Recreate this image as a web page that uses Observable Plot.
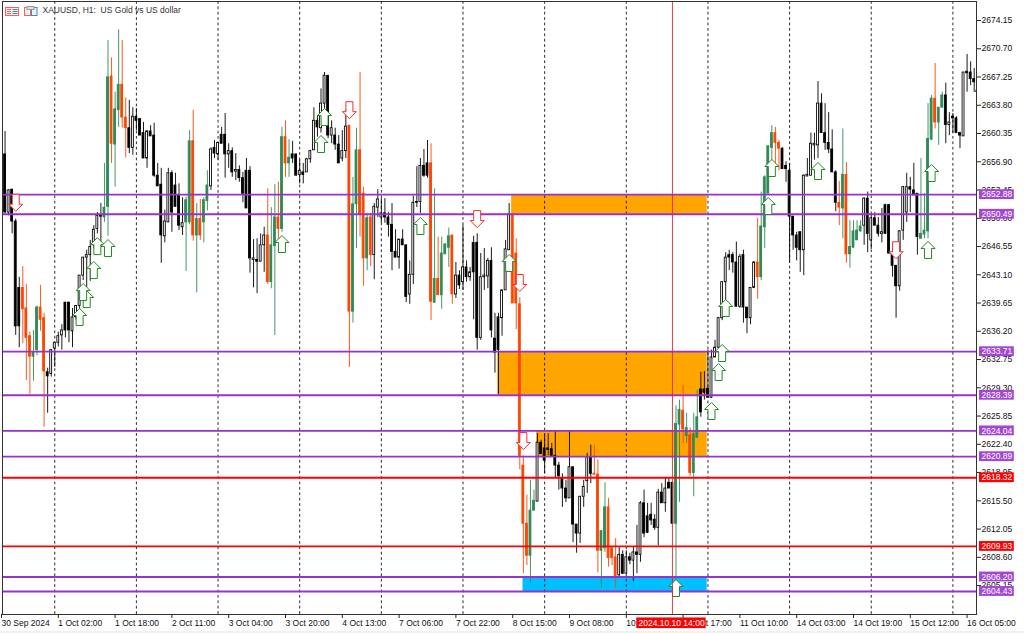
<!DOCTYPE html>
<html><head><meta charset="utf-8">
<style>
html,body{margin:0;padding:0;width:1024px;height:633px;overflow:hidden;background:linear-gradient(#fff 631px,#f0f0f0 631px);}
#wrap{position:relative;width:1024px;height:633px;}
#icons{position:absolute;left:0;top:0;}
</style>
<script src="https://cdn.jsdelivr.net/npm/d3@7"></script>
<script src="https://cdn.jsdelivr.net/npm/@observablehq/plot@0.6"></script>
</head><body><div id="wrap"></div>
<script>
const chartTitle = "XAUUSD, H1:\u00A0\u00A0US Gold vs US dollar";

const highs = [
2660.6,2653.5,2653.5,2649.9,2642.8,2644.1,2641.9,2636.1,2636.3,2639.3,
2641.8,2638.4,2631.7,2633.9,2634.8,2636.1,2637.0,2639.7,2639.7,2639.0,
2639.3,2643.0,2645.2,2646.1,2647.3,2649.1,2650.7,2651.8,2656.7,2671.7,
2669.6,2665.4,2673.0,2671.7,2664.7,2664.4,2663.5,2663.4,2662.2,2661.7,
2660.7,2661.3,2661.6,2656.7,2656.1,2651.0,2656.1,2655.8,2655.5,2654.2,
2652.5,2652.6,2660.7,2663.2,2651.8,2652.3,2652.5,2655.8,2658.6,2659.5,
2659.2,2661.1,2662.8,2659.1,2658.6,2657.9,2656.4,2655.6,2657.3,2656.3,
2647.4,2647.5,2648.1,2648.9,2653.6,2651.3,2654.1,2654.4,2661.1,2661.9,
2659.6,2659.4,2657.8,2657.1,2656.7,2657.3,2658.3,2663.5,2662.5,2665.8,
2667.8,2667.4,2661.9,2661.0,2660.1,2660.7,2663.2,2661.3,2655.0,2661.0,
2667.8,2653.8,2650.6,2650.6,2651.8,2653.5,2652.4,2652.4,2650.7,2651.8,
2648.6,2647.4,2648.6,2646.7,2644.8,2652.7,2656.3,2657.3,2658.4,2659.5,
2659.1,2653.6,2647.7,2647.7,2646.9,2648.8,2647.9,2644.6,2643.6,2649.1,
2644.8,2644.0,2647.8,2648.1,2645.7,2646.3,2645.1,2646.4,2638.4,2638.4,
2641.2,2647.3,2651.8,2650.5,2647.5,2640.3,2621.0,2616.2,2618.0,2616.8,
2623.7,2622.9,2623.5,2623.7,2622.5,2624.0,2620.2,2618.8,2618.0,2624.0,
2619.6,2612.6,2616.0,2618.0,2621.3,2622.3,2622.3,2620.5,2611.8,2617.7,
2615.8,2609.8,2610.9,2609.8,2609.4,2609.4,2609.1,2609.8,2612.5,2615.4,
2616.8,2615.2,2615.2,2613.8,2616.9,2617.6,2618.3,2618.3,2617.7,2627.1,
2627.8,2629.6,2626.2,2624.4,2626.2,2629.0,2631.2,2631.3,2633.9,2633.9,
2635.1,2637.9,2642.2,2645.8,2646.1,2645.8,2647.1,2645.6,2646.1,2639.1,
2641.5,2644.7,2650.0,2653.2,2655.2,2658.8,2661.3,2661.1,2659.5,2658.6,
2656.9,2656.7,2650.2,2648.3,2648.3,2655.3,2657.3,2660.4,2660.4,2666.7,
2665.2,2664.0,2662.9,2660.8,2655.8,2654.5,2660.9,2656.8,2649.7,2649.7,
2649.7,2649.7,2652.5,2653.2,2650.6,2650.7,2650.1,2651.2,2651.7,2651.7,
2646.1,2644.2,2648.5,2653.9,2655.5,2655.0,2656.7,2653.0,2657.3,2653.0,
2664.0,2665.0,2668.9,2663.5,2665.4,2666.5,2662.9,2662.8,2662.4,2660.5,
2667.8,2670.0,2669.1,2668.3];

const bodyTops = [
2657.8,2653.4,2653.5,2649.6,2641.5,2641.5,2639.0,2635.6,2633.6,2639.1,
2639.1,2637.8,2631.2,2633.9,2634.8,2635.6,2636.3,2639.7,2639.7,2637.9,
2639.3,2643.0,2645.2,2645.5,2646.5,2648.6,2650.3,2650.3,2651.3,2667.2,
2667.3,2663.3,2666.3,2666.3,2662.3,2661.0,2662.4,2662.4,2662.1,2660.4,
2660.6,2660.6,2660.1,2655.2,2654.1,2649.6,2655.5,2655.5,2654.0,2652.8,
2649.4,2652.2,2659.4,2659.4,2649.9,2649.9,2652.2,2654.0,2658.4,2658.6,
2659.2,2660.2,2660.2,2658.2,2658.2,2655.9,2655.9,2654.9,2655.8,2655.8,
2645.1,2644.9,2646.7,2647.9,2647.9,2646.7,2650.1,2650.1,2659.9,2659.9,
2657.4,2657.8,2657.8,2655.8,2655.6,2657.2,2658.2,2661.9,2661.9,2664.0,
2667.4,2667.4,2661.0,2660.1,2659.0,2658.2,2661.2,2661.3,2651.7,2658.3,
2658.3,2653.0,2650.0,2650.1,2651.4,2652.3,2650.6,2650.6,2650.1,2649.2,
2645.9,2647.4,2647.4,2646.7,2643.1,2651.9,2652.0,2656.4,2656.4,2656.7,
2656.7,2642.6,2642.6,2645.7,2646.8,2647.8,2647.9,2643.0,2643.0,2644.0,
2644.0,2643.4,2647.0,2647.0,2642.8,2643.0,2644.8,2644.8,2635.3,2637.9,
2641.2,2646.2,2650.5,2650.5,2645.7,2639.5,2619.8,2612.7,2614.3,2615.5,
2622.6,2622.6,2621.9,2621.9,2621.8,2621.0,2619.8,2618.2,2617.0,2619.6,
2619.6,2612.6,2616.0,2617.2,2620.8,2620.8,2618.8,2618.7,2611.8,2614.7,
2614.7,2609.7,2608.6,2608.9,2608.9,2608.6,2608.6,2609.2,2609.2,2615.2,
2615.2,2613.6,2613.8,2613.2,2616.5,2616.5,2617.0,2617.7,2617.7,2624.9,
2626.6,2626.5,2624.4,2623.5,2623.6,2625.7,2629.1,2629.1,2629.2,2633.0,
2634.2,2637.8,2642.2,2645.2,2645.5,2645.5,2644.6,2645.3,2645.5,2639.1,
2641.5,2644.6,2644.6,2649.0,2655.0,2658.8,2660.4,2660.4,2659.2,2658.5,
2656.4,2655.8,2650.2,2647.9,2648.3,2655.2,2655.3,2659.1,2659.1,2664.0,
2664.0,2660.4,2659.2,2658.4,2655.6,2651.9,2655.3,2655.3,2646.5,2648.4,
2648.5,2649.0,2652.4,2652.4,2650.0,2650.0,2649.1,2648.3,2651.6,2651.6,
2645.7,2644.2,2648.4,2653.8,2653.8,2653.8,2653.4,2653.0,2648.1,2648.5,
2659.7,2664.6,2664.6,2663.5,2665.0,2665.0,2661.7,2662.4,2662.2,2660.4,
2667.8,2667.9,2667.8,2667.0];

const bodyBottoms = [
2650.7,2650.7,2649.6,2636.8,2636.8,2638.9,2635.4,2633.1,2633.1,2633.9,
2637.6,2631.3,2630.7,2631.0,2634.1,2634.8,2635.7,2636.3,2636.3,2636.2,
2637.9,2639.3,2643.0,2645.2,2645.5,2646.7,2648.7,2650.2,2650.1,2651.4,
2659.1,2659.0,2663.2,2662.3,2661.0,2658.6,2658.6,2661.9,2660.1,2657.3,
2657.3,2660.0,2655.2,2653.9,2647.9,2647.8,2649.5,2650.7,2651.4,2649.1,
2648.9,2649.5,2649.5,2647.9,2647.9,2647.9,2649.5,2652.1,2653.9,2657.9,
2657.8,2659.1,2657.8,2657.8,2655.6,2655.7,2654.9,2653.0,2651.2,2645.1,
2644.9,2644.7,2644.7,2646.7,2642.2,2642.2,2646.6,2648.7,2648.7,2656.7,
2656.7,2657.3,2655.2,2655.3,2655.3,2655.6,2657.2,2658.3,2661.1,2661.0,
2664.0,2660.1,2660.1,2659.0,2656.7,2657.3,2658.2,2638.6,2638.6,2651.7,
2650.5,2645.1,2645.1,2645.5,2645.5,2651.3,2650.1,2650.1,2649.2,2645.9,
2645.2,2645.2,2646.7,2640.4,2640.7,2643.1,2651.9,2652.0,2655.2,2655.2,
2639.8,2639.7,2640.6,2640.6,2645.6,2646.4,2640.7,2640.7,2641.8,2642.2,
2642.8,2642.8,2643.4,2635.4,2635.4,2642.8,2642.9,2636.3,2633.6,2633.9,
2637.8,2641.2,2646.1,2639.6,2639.6,2621.0,2612.7,2608.8,2608.8,2614.3,
2615.4,2621.2,2620.4,2621.7,2621.0,2619.8,2618.5,2617.0,2615.8,2615.8,
2612.6,2611.5,2611.5,2616.0,2617.9,2618.8,2618.7,2609.4,2609.4,2609.7,
2608.5,2608.5,2606.3,2606.4,2606.6,2606.6,2608.2,2608.2,2608.9,2608.9,
2611.5,2611.6,2613.1,2612.2,2612.2,2615.2,2615.2,2617.0,2612.7,2612.7,
2624.8,2624.2,2623.4,2618.9,2618.9,2623.2,2626.3,2628.7,2628.1,2628.1,
2633.0,2634.2,2637.8,2642.2,2645.2,2644.6,2639.2,2639.2,2639.1,2637.8,
2637.8,2641.5,2642.8,2642.8,2648.9,2653.0,2658.6,2659.2,2658.5,2656.0,
2656.0,2650.2,2647.9,2646.4,2646.1,2646.1,2655.1,2655.2,2658.9,2658.9,
2660.4,2659.2,2658.4,2655.6,2651.9,2651.3,2651.2,2645.6,2645.6,2646.4,
2647.3,2648.4,2649.1,2648.1,2647.3,2649.1,2648.1,2648.1,2648.1,2645.7,
2644.2,2641.7,2641.7,2648.5,2650.7,2653.5,2652.8,2647.7,2647.5,2648.0,
2648.4,2659.6,2661.7,2661.7,2663.5,2661.4,2661.4,2662.2,2660.4,2660.1,
2660.0,2667.7,2667.0,2666.6];

const lows = [
2650.6,2650.3,2648.1,2635.7,2634.2,2634.7,2630.2,2628.5,2630.1,2633.2,
2636.2,2624.5,2626.2,2630.6,2631.8,2634.3,2633.9,2635.4,2634.8,2634.2,
2637.5,2638.1,2642.4,2641.5,2642.3,2646.3,2648.1,2646.9,2649.5,2647.8,
2656.7,2653.8,2661.1,2661.0,2657.4,2657.9,2657.7,2660.7,2660.1,2657.3,
2656.1,2660.0,2655.0,2653.9,2644.5,2647.0,2649.5,2648.3,2651.4,2648.5,
2647.9,2643.5,2649.2,2647.2,2640.9,2647.3,2647.0,2650.9,2653.4,2657.3,
2657.1,2659.1,2654.9,2656.1,2655.0,2654.6,2654.4,2651.9,2651.2,2643.3,
2641.5,2640.8,2644.7,2643.4,2641.9,2641.4,2635.7,2646.9,2648.3,2655.0,
2655.0,2656.7,2655.2,2654.2,2654.2,2655.6,2656.7,2658.3,2659.9,2660.4,
2661.6,2659.7,2659.1,2658.3,2656.7,2656.9,2657.3,2631.8,2637.2,2646.3,
2647.7,2641.7,2643.6,2644.1,2642.5,2650.1,2649.4,2649.4,2647.7,2643.6,
2645.2,2643.8,2646.7,2639.7,2639.5,2641.9,2651.3,2650.6,2655.0,2654.9,
2637.5,2639.6,2640.6,2638.9,2645.6,2644.0,2639.5,2640.2,2641.3,2641.2,
2642.2,2642.3,2637.6,2633.9,2635.1,2641.2,2641.4,2635.4,2631.1,2628.5,
2635.6,2641.2,2646.1,2639.6,2636.4,2619.3,2606.6,2607.6,2605.4,2614.3,
2615.4,2621.2,2618.8,2621.0,2621.0,2618.3,2616.8,2614.7,2615.3,2615.8,
2610.4,2609.1,2610.3,2614.7,2616.4,2617.6,2618.7,2606.7,2604.8,2609.2,
2607.4,2607.6,2604.9,2606.1,2606.5,2606.6,2607.7,2605.6,2606.6,2608.0,
2611.0,2611.5,2612.5,2611.9,2610.0,2615.2,2614.1,2617.0,2612.7,2603.9,
2615.3,2622.5,2622.5,2618.5,2616.0,2623.2,2625.7,2627.8,2628.0,2628.0,
2633.0,2633.9,2637.5,2637.9,2643.6,2643.3,2639.2,2639.0,2637.2,2635.9,
2637.0,2641.4,2640.1,2642.4,2646.3,2653.0,2655.2,2656.4,2655.8,2656.0,
2654.4,2644.5,2646.1,2644.8,2643.4,2643.0,2655.1,2655.2,2657.1,2657.3,
2660.4,2658.3,2657.9,2655.6,2650.8,2649.1,2647.5,2644.5,2643.9,2646.4,
2647.3,2648.3,2646.7,2645.8,2646.2,2649.1,2647.7,2647.0,2648.1,2645.6,
2642.8,2637.8,2641.1,2647.3,2649.5,2650.7,2652.8,2645.5,2647.5,2647.5,
2647.5,2659.5,2660.9,2658.9,2663.5,2659.1,2660.1,2660.4,2660.4,2658.5,
2660.0,2665.4,2666.2,2665.4];

const kinds = (
"kwkkkooogg"+"ookwwwwkkw"+"wwwwwwwkgg"+"oggookwkkk"+"wkkkkwwkkk"+"wggogoggwk"+"wkkwkwkkkk"+
"wkwwoggogo"+"gkkwkwwwkw"+"wkwkkwwogg"+"oogowwwkkk"+"kwkkwwkwkk"+"ogogggowkw"+"kwkkwwwkkk"+
"wwwooooogg"+"wkkkkkkkkw"+"kkwwwkoogg"+"ooowkwkwkw"+"kkkkwkwkkg"+"gogoggkkkw"+
"wwwwkkkwkk"+"wwoggggook"+"kkkkkwwwww"+"kkkkkogogg"+"ggwkwkkwkk"+"kkwwwkkkgg"+"ggoggkwkkk"+"wwkk").split("");

const priceTicks = [2674.15,2670.70,2667.25,2663.80,2660.35,2656.90,2653.45,2650.00,2646.55,2643.10,2639.65,2636.20,2632.75,2629.30,2625.85,2622.40,2618.95,2615.50,2612.05,2608.60,2605.15];
const timeTickBars = [0,16,32,48,64,80,96,112,128,144,160,176,192,208,224,240,256,272];
const timeLabels = ["30 Sep 2024","1 Oct 02:00","1 Oct 18:00","2 Oct 11:00","3 Oct 04:00","3 Oct 20:00","4 Oct 13:00","7 Oct 06:00","7 Oct 22:00","8 Oct 15:00","9 Oct 08:00","10 Oct 00:00","10 Oct 17:00","11 Oct 10:00","14 Oct 03:00","14 Oct 19:00","15 Oct 12:00","16 Oct 05:00"];
const daySeparatorBars = [15,38,61,84,107,130,153,176,199,222,245,268];

const purpleLevels = [2652.88,2650.49,2633.71,2628.39,2624.04,2620.89,2606.20,2604.43];
const redLevels = [2618.32,2609.93];

const zoneTops = [2652.88,2633.71,2624.04,2606.20];
const zoneBottoms = [2650.49,2628.39,2620.89,2604.43];
const zoneStartBars = [143.7,139.8,150.7,146.9];
const zoneEndBar = 198.8;
const zoneColors = ["#ffa500","#ffa500","#ffa500","#00bfff"];

const upArrowBars = [22,24,23,26,27,30,79,90,91,118,143,190,200,202,203,204,216,217,230,262,261,276];
const upArrowPrices = [2637.95,2640.14,2640.99,2643.68,2646.6,2646.37,2646.86,2659.07,2662.37,2649.06,2644.54,2604.86,2626.47,2631.23,2633.55,2639.04,2651.5,2656.14,2655.77,2655.53,2646.13,2665.3];
const downArrowBars = [4,98,134,146,147,252];
const downArrowPrices = [2651.9,2663.2,2649.9,2642.1,2622.8,2646.1];

const crossBar = 189;
const crossLabel = "2024.10.10 14:00";

// ---- assembly
const candles = highs.map((h,i)=>({bar:i+1,high:h,top:bodyTops[i],bottom:bodyBottoms[i],low:lows[i],kind:kinds[i]}));
const bodyFill = {k:"#000",w:"#fff",g:"#2e8b57",o:"#ff4500"};
const lineColor = {k:"#000",w:"#000",g:"#2e8b57",o:"#ff4500"};
const zones = zoneTops.map((t,i)=>({top:t,bottom:zoneBottoms[i],start:zoneStartBars[i],fill:zoneColors[i]}));
const ups = upArrowBars.map((b,i)=>({bar:b,price:upArrowPrices[i]}));
const downs = downArrowBars.map((b,i)=>({bar:b,price:downArrowPrices[i]}));
const tagRows = [...purpleLevels.map(p=>({price:p,fill:"#a347d3"})),...redLevels.map(p=>({price:p,fill:"#ff0000"}))];

const arrowPts = [[0,-8.5],[7,-1.5],[3.5,-1.5],[3.5,8.5],[-3.5,8.5],[-3.5,-1.5],[-7,-1.5]];
const arrowSymbol = dir => ({draw(ctx,size){
  const k = Math.sqrt(size/Math.PI)/8.5;
  arrowPts.forEach(([x,y],i)=>{ i ? ctx.lineTo(x*k,dir*y*k) : ctx.moveTo(x*k,dir*y*k); });
  ctx.closePath();
}});

const font = "'Liberation Sans',sans-serif";
const tagLeft = 275.5, tagRight = 285.3, tagMid = (tagLeft+tagRight)/2;

const chart = Plot.plot({
  width:1024,height:633,
  marginLeft:2,marginRight:48,marginTop:1,marginBottom:19,
  x:{domain:[0.28,274.65]},
  y:{domain:[2601.62,2676.47]},
  style:{background:"transparent",fontFamily:font,fontSize:"8.5px",color:"#111",overflow:"visible"},
  marks:[
    Plot.rect(zones,{x1:"start",x2:()=>zoneEndBar,y1:"bottom",y2:"top",fill:"fill"}),
    Plot.ruleX(daySeparatorBars,{stroke:"#111",strokeWidth:0.9,strokeDasharray:"2.7,2.7"}),
    Plot.ruleX(candles,{x:"bar",y1:"low",y2:"high",stroke:d=>lineColor[d.kind],strokeWidth:0.9}),
    Plot.rect(candles,{x1:d=>d.bar-0.27,x2:d=>d.bar+0.27,y1:"bottom",y2:"top",fill:d=>bodyFill[d.kind],stroke:d=>lineColor[d.kind],strokeWidth:0.85}),
    Plot.ruleY(purpleLevels,{stroke:"#9932cc",strokeWidth:1.8}),
    Plot.ruleY(redLevels,{stroke:"#ff0000",strokeWidth:1.8}),
    Plot.dot(ups,{x:"bar",y:"price",r:8.5,symbol:arrowSymbol(1),fill:"#fff",stroke:"#228b22",strokeWidth:1,clip:true}),
    Plot.dot(downs,{x:"bar",y:"price",r:8.5,symbol:arrowSymbol(-1),fill:"#fff",stroke:"#f03030",strokeWidth:1}),
    Plot.axisY({anchor:"right",ticks:priceTicks,tickFormat:d=>d.toFixed(2),tickSize:4,tickPadding:1,fontSize:8.5,stroke:"#222",fill:"#111"}),
    Plot.axisX({anchor:"bottom",ticks:timeTickBars,tickFormat:b=>timeLabels[timeTickBars.indexOf(b)],tickSize:4,tickPadding:1,textAnchor:"start",fontSize:8.5,stroke:"#222",fill:"#111"}),
    Plot.ruleX([crossBar],{stroke:"#e02828",strokeWidth:0.9}),
    Plot.rect(tagRows,{x1:()=>tagLeft,x2:()=>tagRight,y1:d=>d.price-0.6,y2:d=>d.price+0.6,fill:"fill"}),
    Plot.text(tagRows,{x:()=>tagMid,y:"price",text:d=>d.price.toFixed(2),fill:"#fff",fontSize:8.5}),
    Plot.rect([crossBar],{x1:d=>d-10.05,x2:d=>d+9.5,y1:()=>2599.9,y2:()=>2601.2,fill:"#ff0000"}),
    Plot.text([crossLabel],{x:()=>crossBar-0.25,y:()=>2600.55,text:d=>d,fill:"#fff",fontSize:8.5}),
    Plot.text([chartTitle],{frameAnchor:"top-left",dx:40,dy:5,text:d=>d,fill:"#333",fontSize:8.5}),
    Plot.frame({stroke:"#333",strokeWidth:1})
  ]
});
const wrap = document.getElementById("wrap");
wrap.appendChild(chart);
const icons = document.createElementNS("http://www.w3.org/2000/svg","svg");
icons.id="icons"; icons.setAttribute("width","42"); icons.setAttribute("height","18");
icons.innerHTML = `
<rect x="5.5" y="7.5" width="13" height="8" fill="#fdeeee" stroke="#e66"/>
<path d="M7 9.5h4M7 11.5h4M7 13.5h4" stroke="#e66"/><path d="M12.5 9.5h5M12.5 11.5h5M12.5 13.5h5" stroke="#48a"/>
<rect x="24.5" y="7.5" width="6" height="8" fill="#fdeeee" stroke="#e66"/>
<rect x="31.5" y="7.5" width="5.5" height="8" fill="#e8f4fc" stroke="#48a"/>
<rect x="27" y="6.5" width="7" height="3" fill="#ddd" stroke="#999"/>`;
wrap.appendChild(icons);
</script></body></html>
